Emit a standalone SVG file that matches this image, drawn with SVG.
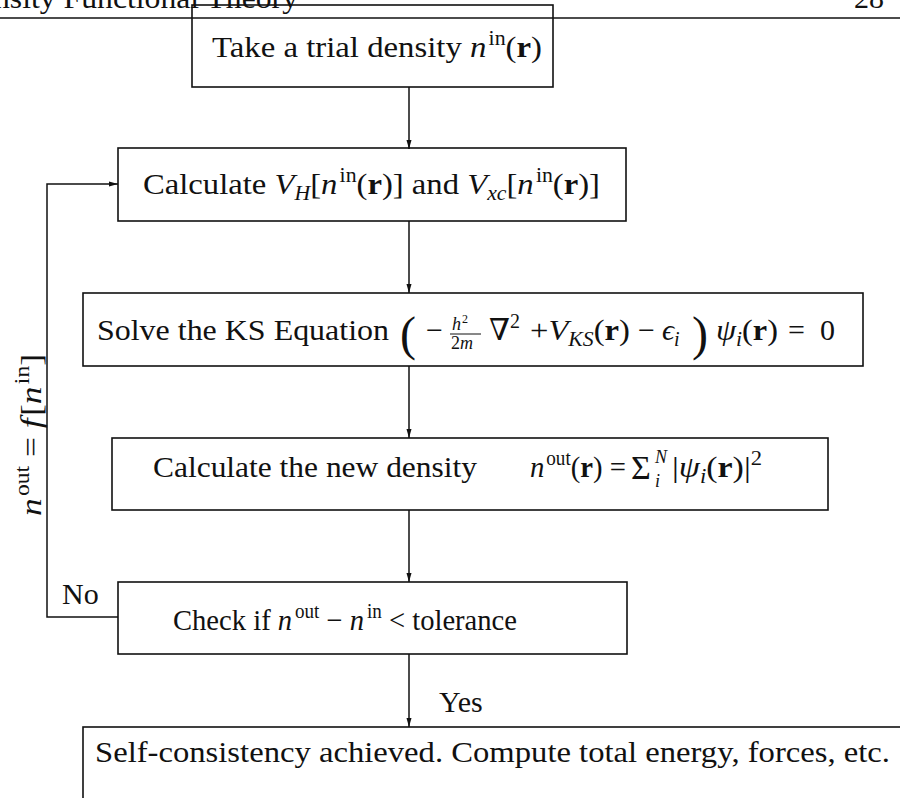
<svg xmlns="http://www.w3.org/2000/svg" width="900" height="798" viewBox="0 0 900 798">
<style>
.t{font-family:"Liberation Serif","DejaVu Serif",serif;font-size:30px;fill:#111}
.i{font-style:italic}
.b{font-weight:bold}
.s{font-size:20px}
.f{font-size:18px}
.box{fill:none;stroke:#111;stroke-width:1.6}
.c{fill:none;stroke:#111;stroke-width:1.5}
</style>
<defs>
<marker id="ah" viewBox="0 0 10 10" refX="10" refY="5" markerWidth="9" markerHeight="9" markerUnits="userSpaceOnUse" orient="auto">
<path d="M0,2.2 L10,5 L0,7.8 z" fill="#111"/>
</marker>
</defs>
<rect width="900" height="798" fill="#fff"/>
<g id="page-header">
<text class="t" x="-6" y="8" textLength="304" lengthAdjust="spacingAndGlyphs">nsity Functional Theory</text>
<text class="t" x="884" y="8" text-anchor="end">28</text>
<line x1="0" y1="18" x2="900" y2="18" stroke="#111" stroke-width="1.5"/>
</g>
<g id="connectors">
<line class="c" x1="409" y1="87" x2="409" y2="149" marker-end="url(#ah)"/>
<line class="c" x1="409" y1="221" x2="409" y2="293" marker-end="url(#ah)"/>
<line class="c" x1="409" y1="366" x2="409" y2="438" marker-end="url(#ah)"/>
<line class="c" x1="409" y1="510" x2="409" y2="582" marker-end="url(#ah)"/>
<line class="c" x1="409" y1="654" x2="409" y2="727" marker-end="url(#ah)"/>
<polyline class="c" points="118,617 47,617 47,184 118,184" marker-end="url(#ah)"/>
<text class="t" x="62" y="604">No</text>
<text class="t" x="439" y="712">Yes</text>
<text class="t" transform="translate(41,516) rotate(-90)" x="0" y="0" textLength="162" lengthAdjust="spacingAndGlyphs"><tspan class="i">n</tspan><tspan class="s" dx="2" dy="-12">out</tspan><tspan dy="12"> = </tspan><tspan class="i">f</tspan><tspan dx="2">[</tspan><tspan class="i">n</tspan><tspan class="s" dx="2" dy="-12">in</tspan><tspan dy="12">]</tspan></text>
</g>
<g id="node-1">
<rect class="box" x="192" y="5" width="361" height="82"/>
<text class="t" x="212" y="57" textLength="330" lengthAdjust="spacingAndGlyphs">Take a trial density <tspan class="i">n</tspan><tspan class="s" dx="2" dy="-12">in</tspan><tspan dy="12">(</tspan><tspan class="b">r</tspan>)</text>
</g>
<g id="node-2">
<rect class="box" x="118" y="148" width="508" height="73"/>
<text class="t" x="143" y="194" textLength="457" lengthAdjust="spacingAndGlyphs">Calculate <tspan class="i">V</tspan><tspan class="s i" dy="6">H</tspan><tspan dy="-6">[</tspan><tspan class="i">n</tspan><tspan class="s" dx="2" dy="-12">in</tspan><tspan dy="12">(</tspan><tspan class="b">r</tspan>)] and <tspan class="i">V</tspan><tspan class="s i" dy="6">xc</tspan><tspan dy="-6">[</tspan><tspan class="i">n</tspan><tspan class="s" dx="2" dy="-12">in</tspan><tspan dy="12">(</tspan><tspan class="b">r</tspan>)]</text>
</g>
<g id="node-3">
<rect class="box" x="83" y="293" width="780" height="73"/>
<text class="t" x="97" y="340" textLength="292" lengthAdjust="spacingAndGlyphs">Solve the KS Equation</text>
<text class="t" x="400" y="350" style="font-size:48px">(</text>
<text class="t" x="426" y="340">−</text>
<text class="t f i" x="452" y="330">h</text>
<text class="t" x="462" y="323" style="font-size:12px">2</text>
<line x1="450" y1="334" x2="481" y2="334" stroke="#111" stroke-width="1"/>
<text class="t f" x="451" y="349">2<tspan class="i">m</tspan></text>
<text class="t" x="489" y="340">∇<tspan class="s" dy="-12">2</tspan></text>
<text class="t" x="530" y="340" textLength="100" lengthAdjust="spacingAndGlyphs">+<tspan class="i">V</tspan><tspan class="s i" dy="6">KS</tspan><tspan dy="-6">(</tspan><tspan class="b">r</tspan>)</text>
<text class="t" x="638" y="340">−</text>
<text class="t" x="662" y="340"><tspan class="i">ϵ</tspan><tspan class="s i" dy="6">i</tspan></text>
<text class="t" x="692" y="350" style="font-size:48px">)</text>
<text class="t" x="716" y="340" textLength="62" lengthAdjust="spacingAndGlyphs"><tspan class="i">ψ</tspan><tspan class="s i" dy="6">i</tspan><tspan dy="-6">(</tspan><tspan class="b">r</tspan>)</text>
<text class="t" x="788" y="340">=</text>
<text class="t" x="820" y="340">0</text>
</g>
<g id="node-4">
<rect class="box" x="112" y="438" width="716" height="72"/>
<text class="t" x="153" y="477" textLength="324" lengthAdjust="spacingAndGlyphs">Calculate the new density</text>
<text class="t" x="530" y="477" textLength="96" lengthAdjust="spacingAndGlyphs"><tspan class="i">n</tspan><tspan class="s" dx="2" dy="-12">out</tspan><tspan dy="12">(</tspan><tspan class="b">r</tspan>) =</text>
<text class="t" x="631" y="479" style="font-size:34px">Σ</text>
<text class="t f i" x="655" y="463">N</text>
<text class="t f i" x="655" y="487">i</text>
<text class="t" x="672" y="477" textLength="90" lengthAdjust="spacingAndGlyphs">|<tspan class="i">ψ</tspan><tspan class="s i" dy="6">i</tspan><tspan dy="-6">(</tspan><tspan class="b">r</tspan>)|<tspan class="s" dy="-12">2</tspan></text>
</g>
<g id="node-5">
<rect class="box" x="118" y="582" width="509" height="72"/>
<text class="t" x="173" y="630" textLength="344" lengthAdjust="spacingAndGlyphs">Check if <tspan class="i">n</tspan><tspan class="s" dx="3" dy="-12">out</tspan><tspan dy="12"> − </tspan><tspan class="i">n</tspan><tspan class="s" dx="3" dy="-12">in</tspan><tspan dy="12"> &lt; tolerance</tspan></text>
</g>
<g id="node-6">
<rect class="box" x="83" y="727" width="900" height="200"/>
<text class="t" x="95" y="762" textLength="795" lengthAdjust="spacingAndGlyphs">Self-consistency achieved. Compute total energy, forces, etc.</text>
</g>
</svg>
